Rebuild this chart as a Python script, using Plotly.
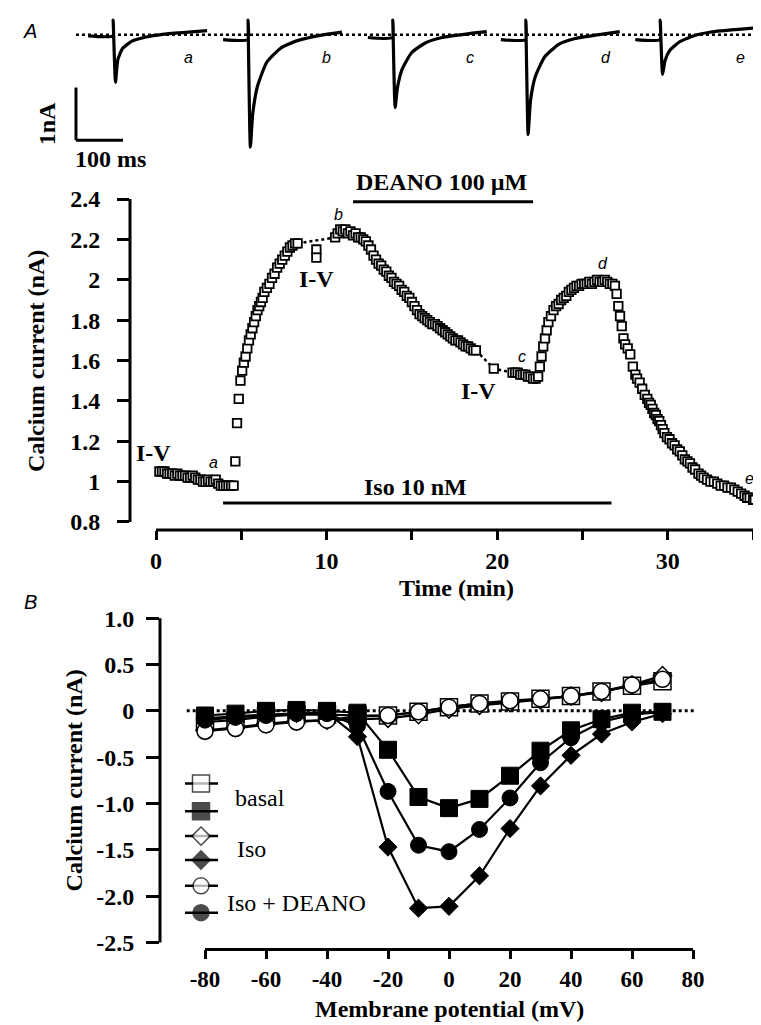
import plotly.graph_objects as go

W, H = 761, 1025
def fx(x): return x / W
def fy(y): return 1 - y / H

SERIF = "Liberation Serif"
SANS = "Liberation Sans"
BOLD = dict(family=SERIF, size=24, color="black", weight="bold")
BOLD_T = dict(family=SERIF, size=23, color="black", weight="bold")
PLAIN = dict(family=SERIF, size=24, color="black")
ITAL = dict(family=SANS, size=16, color="black", style="italic")

# ---------------- Data: example current traces (panel A, top) ----------------
trace_ms = [-53, -0.5, 0, 5, 10, 20, 40, 70, 105, 160, 200]
trace_a = [-0.02, -0.02, 0.28, -0.90, -0.47, -0.26, -0.12, -0.04, 0.01, 0.05, 0.08]
trace_b = [-0.09, -0.09, 0.28, -2.13, -1.50, -0.98, -0.52, -0.25, -0.11, 0.00, 0.05]
trace_c = [-0.05, -0.05, 0.28, -1.38, -1.00, -0.65, -0.34, -0.15, -0.05, 0.02, 0.06]
trace_d = [-0.09, -0.09, 0.28, -1.89, -1.25, -0.80, -0.42, -0.18, -0.07, 0.01, 0.06]
trace_e = [-0.09, -0.09, 0.28, -0.75, -0.50, -0.30, -0.14, -0.02, 0.05, 0.10, 0.13]
trace_names = ["a", "b", "c", "d", "e"]

# ---------------- Data: time course (panel A) ----------------
seg_basal = [(0.2, 1.05), (0.35, 1.05), (0.5, 1.05), (0.65, 1.04), (0.8, 1.04), (0.95, 1.04),
             (1.1, 1.03), (1.25, 1.04), (1.4, 1.03), (1.55, 1.03), (1.7, 1.03), (1.85, 1.02),
             (2.0, 1.02), (2.15, 1.03), (2.3, 1.02), (2.45, 1.01), (2.6, 1.01), (2.75, 1.00),
             (2.9, 1.00), (3.05, 1.01), (3.2, 1.00), (3.35, 1.00), (3.5, 1.01), (3.65, 0.99),
             (3.8, 0.98), (3.95, 0.98), (4.1, 0.98), (4.25, 0.98), (4.4, 0.98), (4.55, 0.98)]
seg_iso_rise = [(4.65, 1.10), (4.75, 1.29), (4.85, 1.41), (4.95, 1.50), (5.05, 1.55), (5.15, 1.59),
                (5.25, 1.62), (5.35, 1.66), (5.45, 1.70), (5.55, 1.73), (5.65, 1.76), (5.75, 1.79),
                (5.85, 1.82), (5.95, 1.85), (6.05, 1.87), (6.15, 1.89), (6.25, 1.91), (6.35, 1.94),
                (6.5, 1.96), (6.65, 1.98), (6.8, 2.01), (6.95, 2.03), (7.1, 2.06), (7.25, 2.08),
                (7.4, 2.10), (7.55, 2.12), (7.7, 2.14), (7.85, 2.16), (8.0, 2.17), (8.15, 2.18),
                (8.3, 2.18)]
seg_deano = [(10.5, 2.21), (10.65, 2.23), (10.8, 2.25), (10.95, 2.24), (11.1, 2.25), (11.25, 2.23),
             (11.4, 2.24), (11.55, 2.22), (11.7, 2.23), (11.85, 2.21), (12.0, 2.21), (12.15, 2.20),
             (12.3, 2.19), (12.45, 2.17), (12.6, 2.15), (12.75, 2.12), (12.9, 2.10), (13.05, 2.08),
             (13.2, 2.07), (13.35, 2.05), (13.5, 2.04), (13.65, 2.02), (13.8, 2.01), (13.95, 1.99),
             (14.1, 1.98), (14.25, 1.97), (14.4, 1.95), (14.55, 1.94), (14.7, 1.92), (14.85, 1.91),
             (15.0, 1.89), (15.15, 1.87), (15.3, 1.85), (15.45, 1.83), (15.6, 1.82), (15.75, 1.81),
             (15.9, 1.80), (16.05, 1.79), (16.2, 1.78), (16.35, 1.78), (16.5, 1.77), (16.65, 1.76),
             (16.8, 1.75), (16.95, 1.74), (17.1, 1.73), (17.25, 1.72), (17.4, 1.71), (17.55, 1.70),
             (17.7, 1.70), (17.85, 1.69), (18.0, 1.68), (18.15, 1.67), (18.3, 1.67), (18.45, 1.66),
             (18.6, 1.65), (18.75, 1.65)]
seg_washout = [(20.9, 1.54), (21.05, 1.54), (21.2, 1.54), (21.35, 1.53), (21.5, 1.53), (21.65, 1.53),
               (21.8, 1.52), (21.95, 1.52), (22.1, 1.51), (22.25, 1.51), (22.4, 1.52), (22.5, 1.57),
               (22.6, 1.62), (22.7, 1.67), (22.8, 1.71), (22.9, 1.75), (23.0, 1.79), (23.15, 1.82),
               (23.3, 1.85), (23.45, 1.87), (23.6, 1.88), (23.75, 1.90), (23.9, 1.91), (24.05, 1.92),
               (24.2, 1.94), (24.35, 1.95), (24.5, 1.96), (24.65, 1.97), (24.8, 1.97), (24.95, 1.98),
               (25.1, 1.98), (25.25, 1.98), (25.4, 1.99), (25.55, 1.98), (25.7, 1.99), (25.85, 2.00),
               (26.0, 1.99), (26.15, 1.99), (26.3, 2.00), (26.45, 1.99), (26.6, 1.98), (26.75, 1.98),
               (26.9, 1.97)]
seg_iso_wash = [(27.0, 1.93), (27.1, 1.87), (27.2, 1.82), (27.3, 1.77), (27.4, 1.71), (27.5, 1.68),
                (27.65, 1.66), (27.8, 1.63), (27.95, 1.57), (28.1, 1.53), (28.2, 1.51), (28.35, 1.49),
                (28.5, 1.46), (28.65, 1.43), (28.8, 1.41), (28.9, 1.39), (29.0, 1.38), (29.1, 1.36),
                (29.2, 1.34), (29.3, 1.33), (29.4, 1.31), (29.5, 1.30), (29.6, 1.28), (29.7, 1.26),
                (29.8, 1.24), (29.95, 1.22), (30.1, 1.21), (30.25, 1.19), (30.4, 1.18), (30.55, 1.16),
                (30.7, 1.15), (30.85, 1.13), (31.0, 1.11), (31.15, 1.10), (31.3, 1.09), (31.45, 1.07),
                (31.6, 1.06), (31.8, 1.04), (31.95, 1.03), (32.1, 1.02), (32.3, 1.01), (32.5, 1.00),
                (32.7, 1.00), (32.9, 0.99), (33.1, 0.98), (33.3, 0.98), (33.5, 0.97), (33.7, 0.97),
                (33.9, 0.96), (34.1, 0.95), (34.3, 0.94), (34.5, 0.93), (34.65, 0.92), (34.8, 0.92),
                (35.0, 0.91), (35.1, 0.91)]
iv_points = [(9.4, 2.15), (9.4, 2.11), (19.8, 1.56)]
gap1 = [(8.3, 2.18), (10.5, 2.21)]
gap2 = [(18.75, 1.65), (19.8, 1.56), (20.9, 1.54)]
iso_period = [3.93, 26.7]
deano_period = [11.55, 22.1]
time_ticks = [0, 5, 10, 15, 20, 25, 30, 35]
time_ticktext = ["0", "", "10", "", "20", "", "30", ""]
ia_ticks = [0.8, 1.0, 1.2, 1.4, 1.6, 1.8, 2.0, 2.2, 2.4]
ia_ticktext = ["0.8", "1", "1.2", "1.4", "1.6", "1.8", "2", "2.2", "2.4"]

# ---------------- Data: I-V relations (panel B) ----------------
V_mV = [-80, -70, -60, -50, -40, -30, -20, -10, 0, 10, 20, 30, 40, 50, 60, 70]
basal_open = [-0.12, -0.10, -0.06, -0.04, -0.04, -0.05, -0.05, -0.01, 0.04, 0.08, 0.10, 0.13, 0.16, 0.21, 0.27, 0.32]
basal_filled = [-0.05, -0.03, 0.00, 0.01, 0.00, -0.02, -0.42, -0.93, -1.05, -0.95, -0.70, -0.43, -0.21, -0.09, -0.02, -0.01]
iso_open = [-0.21, -0.18, -0.14, -0.11, -0.10, -0.09, -0.08, -0.04, 0.02, 0.06, 0.09, 0.12, 0.16, 0.20, 0.28, 0.38]
iso_filled = [-0.08, -0.06, -0.04, -0.03, -0.02, -0.28, -1.47, -2.13, -2.11, -1.78, -1.27, -0.81, -0.48, -0.25, -0.12, -0.03]
deano_open = [-0.22, -0.19, -0.15, -0.12, -0.10, -0.06, -0.05, -0.01, 0.04, 0.08, 0.11, 0.13, 0.16, 0.21, 0.28, 0.34]
deano_filled = [-0.10, -0.07, -0.05, -0.03, -0.03, -0.16, -0.87, -1.45, -1.52, -1.28, -0.94, -0.56, -0.29, -0.12, -0.04, -0.01]
v_ticks = [-80, -60, -40, -20, 0, 20, 40, 60, 80]
v_ticktext = ["-80", "-60", "-40", "-20", "0", "20", "40", "60", "80"]
ib_ticks = [-2.5, -2.0, -1.5, -1.0, -0.5, 0, 0.5, 1.0]
ib_ticktext = ["-2.5", "-2.0", "-1.5", "-1.0", "-0.5", "0", "0.5", "1.0"]
legend_labels = ["basal", "Iso", "Iso + DEANO"]

# ---------------- Layout constants (pixels) ----------------
A_PX_PER_MIN, A_X0, A_LEFT, A_RIGHT = 17.06, 148, 122, 752
A_PX_PER_NA, A_Y08, A_TOP, A_BOT = 203.0, 517, 170, 525
B_PX_PER_MV, B_X0, B_LEFT, B_RIGHT = 3.05, 441, 152, 700
B_PX_PER_NA, B_Y0, B_TOP, B_BOT = 93.2, 707, 600, 947
T_PX_PER_MS, T_X0 = 0.47, 60
T_PX_PER_NA, T_Y0 = 53.0, 27
trace_starts_ms = [96, 383, 691, 974, 1260]

fig = go.Figure()

def unzip(pairs):
    return [p[0] for p in pairs], [p[1] for p in pairs]

# ---- traces (xaxis3 / yaxis3) ----
for start, vals in zip(trace_starts_ms, [trace_a, trace_b, trace_c, trace_d, trace_e]):
    fig.add_trace(go.Scatter(x=[start + t for t in trace_ms], y=vals, mode="lines",
                             line=dict(color="black", width=3.2, shape="spline", smoothing=0.5),
                             xaxis="x3", yaxis="y3", hoverinfo="skip"))

# ---- time course ----
dot_line = dict(color="black", width=2.5, dash="dot")
for g in (gap1, gap2):
    gx, gy = unzip(g)
    fig.add_trace(go.Scatter(x=gx, y=gy, mode="lines", line=dot_line, xaxis="x", yaxis="y"))
for seg in (seg_basal, seg_iso_rise, seg_deano, seg_washout, seg_iso_wash, iv_points):
    sx, sy = unzip(seg)
    fig.add_trace(go.Scatter(x=sx, y=sy, mode="markers", xaxis="x", yaxis="y",
                             marker=dict(symbol="square", size=8.5, color="white",
                                         line=dict(color="black", width=1.8))))

# ---- I-V ----
open_specs = [(basal_open, "square", 17), (iso_open, "diamond", 14), (deano_open, "circle", 16)]
filled_specs = [(basal_filled, "square", 17), (iso_filled, "diamond", 14), (deano_filled, "circle", 16)]
for vals, sym, sz in open_specs:
    fig.add_trace(go.Scatter(x=V_mV, y=vals, mode="lines+markers", xaxis="x2", yaxis="y2",
                             line=dict(color="black", width=2.2),
                             marker=dict(symbol=sym, size=sz, color="white", line=dict(color="black", width=1.5))))
for vals, sym, sz in filled_specs:
    fig.add_trace(go.Scatter(x=V_mV, y=vals, mode="lines+markers", xaxis="x2", yaxis="y2",
                             line=dict(color="black", width=2.2),
                             marker=dict(symbol=sym, size=sz, color="black", line=dict(color="black", width=1))))

# ---- legend glyphs (pixel axis x4/y4) ----
leg_rows = [(780, "square", 17, "white"), (808, "square", 17, "black"),
            (833, "diamond", 14, "white"), (857, "diamond", 14, "black"),
            (883, "circle", 16, "white"), (910, "circle", 16, "black")]
for yy, sym, sz, col in leg_rows:
    fig.add_trace(go.Scatter(x=[177, 193, 210], y=[yy, yy, yy], mode="lines+markers",
                             xaxis="x4", yaxis="y4", line=dict(color="black", width=2.5),
                             marker=dict(symbol=sym, size=[0, sz, 0], color=col,
                                         line=dict(color="black", width=1.5))))

shapes = []
# traces zero line & scale bar
shapes.append(dict(type="line", xref="x3", yref="y3", x0=17, x1=1468, y0=0, y1=0, line=dot_line))
shapes.append(dict(type="line", xref="x3", yref="y3", x0=17, x1=17, y0=-1.0, y1=-2.0, line=dict(color="black", width=3)))
shapes.append(dict(type="line", xref="x3", yref="y3", x0=17, x1=117, y0=-2.0, y1=-2.0, line=dict(color="black", width=3)))
# panel A axis lines
shapes.append(dict(type="line", xref="x", yref="y domain", x0=0, x1=35, y0=0, y1=0, line=dict(color="black", width=3)))
shapes.append(dict(type="line", xref="x domain", yref="y", x0=0, x1=0, y0=0.8, y1=2.4, line=dict(color="black", width=3)))
# treatment bars
shapes.append(dict(type="line", xref="x", yref="paper", x0=iso_period[0], x1=iso_period[1], y0=fy(498), y1=fy(498), line=dict(color="black", width=3)))
shapes.append(dict(type="line", xref="x", yref="paper", x0=deano_period[0], x1=deano_period[1], y0=fy(195), y1=fy(195), line=dict(color="black", width=3)))
# panel B axis lines & zero line
shapes.append(dict(type="line", xref="x2", yref="y2 domain", x0=-80, x1=80, y0=0, y1=0, line=dict(color="black", width=3)))
shapes.append(dict(type="line", xref="x2 domain", yref="y2", x0=0, x1=0, y0=-2.5, y1=1.0, line=dict(color="black", width=3)))
shapes.append(dict(type="line", xref="x2", yref="y2", x0=-86, x1=81, y0=0, y1=0, line=dict(color="black", width=3, dash="dot"), layer="below"))

ann = []
def txt(x, y, s, font, angle=0, xanchor="center"):
    ann.append(dict(x=fx(x), y=fy(y), xref="paper", yref="paper", text=s, showarrow=False,
                    font=font, textangle=angle, xanchor=xanchor, yanchor="middle"))

txt(22, 23, "A", dict(family=SANS, size=20, color="black", style="italic"))
txt(22, 597, "B", dict(family=SANS, size=20, color="black", style="italic"))
for name, xp in zip(trace_names, [180, 318, 462, 598, 732]):
    txt(xp, 50, name, ITAL)
txt(39, 117, "1nA", BOLD, angle=-90)
txt(102, 152, "100 ms", BOLD)
txt(433, 175, "DEANO 100 µM", BOLD)
txt(407, 482, "Iso 10 nM", BOLD)
txt(145, 448, "I-V", BOLD)
txt(308, 273, "I-V", BOLD)
txt(470, 385, "I-V", BOLD)
for name, (xp, yp) in zip(trace_names, [(205, 457), (330, 208), (514, 351), (595, 257), (741, 473)]):
    txt(xp, yp, name, ITAL)
txt(28, 355, "Calcium current (nA)", BOLD, angle=-90)
txt(448, 583, "Time (min)", BOLD)
txt(66, 777, "Calcium current (nA)", BOLD, angle=-90)
txt(441, 1007, "Membrane potential (mV)", BOLD)
txt(225, 795, legend_labels[0], PLAIN, xanchor="left")
txt(227, 846, legend_labels[1], PLAIN, xanchor="left")
txt(217, 900, legend_labels[2], PLAIN, xanchor="left")

common = dict(showgrid=False, zeroline=False, showline=False, ticks="outside",
              tickcolor="black", tickwidth=3, tickfont=BOLD)
fig.update_layout(
    width=W, height=H, margin=dict(l=0, r=0, t=0, b=0),
    paper_bgcolor="white", plot_bgcolor="rgba(0,0,0,0)", showlegend=False,
    shapes=shapes, annotations=ann,
    xaxis=dict(common, domain=[fx(A_LEFT), fx(A_RIGHT)], anchor="y",
               range=[(A_LEFT - A_X0) / A_PX_PER_MIN, (A_RIGHT - A_X0) / A_PX_PER_MIN],
               tickvals=time_ticks, ticktext=time_ticktext, ticklen=9),
    yaxis=dict(common, domain=[fy(A_BOT), fy(A_TOP)], anchor="x",
               range=[0.8 - (A_BOT - A_Y08) / A_PX_PER_NA, 0.8 + (A_Y08 - A_TOP) / A_PX_PER_NA],
               tickvals=ia_ticks, ticktext=ia_ticktext, ticklen=12, ticklabelstandoff=12),
    xaxis2=dict(common, domain=[fx(B_LEFT), fx(B_RIGHT)], anchor="y2",
                range=[(B_LEFT - B_X0) / B_PX_PER_MV, (B_RIGHT - B_X0) / B_PX_PER_MV],
                tickvals=v_ticks, ticktext=v_ticktext, ticklen=9, tickfont=BOLD_T),
    yaxis2=dict(common, domain=[fy(B_BOT), fy(B_TOP)], anchor="x2",
                range=[-(B_BOT - B_Y0) / B_PX_PER_NA, (B_Y0 - B_TOP) / B_PX_PER_NA],
                tickvals=ib_ticks, ticktext=ib_ticktext, ticklen=13, ticklabelstandoff=7),
    xaxis3=dict(visible=False, domain=[0, 1], anchor="y3",
                range=[-T_X0 / T_PX_PER_MS, (W - T_X0) / T_PX_PER_MS]),
    yaxis3=dict(visible=False, domain=[fy(160), 1], anchor="x3",
                range=[-(160 - T_Y0) / T_PX_PER_NA, T_Y0 / T_PX_PER_NA]),
    xaxis4=dict(visible=False, domain=[0, 1], anchor="y4", range=[0, W]),
    yaxis4=dict(visible=False, domain=[0, 1], anchor="x4", range=[H, 0]),
)

fig.write_html("out.html")
